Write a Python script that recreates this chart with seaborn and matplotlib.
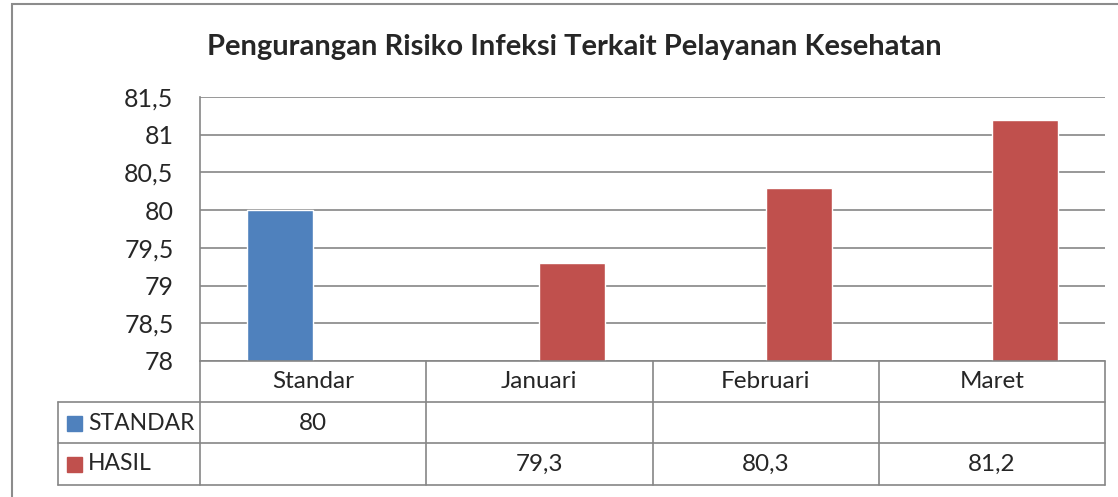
import numpy as np
import pandas as pd
import seaborn as sns
import matplotlib
matplotlib.use("Agg")
import matplotlib.pyplot as plt
from matplotlib.transforms import blended_transform_factory
from matplotlib.patches import Rectangle

# data
categories = ["Standar", "Januari", "Februari", "Maret"]
series = ["STANDAR", "HASIL"]
standar_vals = [80, np.nan, np.nan, np.nan]
hasil_vals = [np.nan, 79.3, 80.3, 81.2]
yticks = [78, 78.5, 79, 79.5, 80, 80.5, 81, 81.5]
title = "Pengurangan Risiko Infeksi Terkait Pelayanan Kesehatan"

colors = ["#4F81BD", "#C0504D"]
grid_c = "#868686"

df = pd.DataFrame({
    "cat": categories * 2,
    "series": [series[0]] * 4 + [series[1]] * 4,
    "val": standar_vals + hasil_vals,
})

sns.set_style("white")
plt.rcParams["font.family"] = ["Lato", "DejaVu Sans"]

W, H = 1118, 497
fig = plt.figure(figsize=(W / 100, H / 100), dpi=100)

def fx(px):
    return px / W

def fy(py):
    return 1 - py / H

ax = fig.add_axes([fx(200), fy(361), fx(1105) - fx(200), fy(97) - fy(361)])
sns.barplot(data=df, x="cat", y="val", hue="series", order=categories,
            hue_order=series, palette=colors, width=0.584, errorbar=None,
            saturation=1, ax=ax, legend=False)

ax.set_ylim(78, 81.5)
ax.set_xlim(-0.5, 3.5)
ax.set_yticks(yticks)
ax.set_yticklabels([f"{v:g}".replace(".", ",") for v in yticks], fontsize=18)
ax.tick_params(axis="y", length=0, pad=19)
ax.set_xticks([])
ax.set_xlabel("")
ax.set_ylabel("")
ax.grid(axis="y", color=grid_c, lw=1.2)
ax.set_axisbelow(True)
for s in ["top", "right", "bottom"]:
    ax.spines[s].set_visible(False)
ax.spines["left"].set_color(grid_c)
ax.spines["left"].set_linewidth(1.2)

# data table under the plot
tr = blended_transform_factory(ax.transData, fig.transFigure)
tf = fig.transFigure
edges = np.arange(len(categories) + 1) - 0.5
rows_y = [361, 402, 443, 485]
lw = 1.2
ax.plot([edges[0], edges[-1]], [fy(361)] * 2, transform=tr, color=grid_c, lw=lw, clip_on=False)
for yy in rows_y[1:]:
    fig.add_artist(plt.Line2D([fx(58), fx(1105)], [fy(yy)] * 2, color=grid_c, lw=lw))
fig.add_artist(plt.Line2D([fx(58)] * 2, [fy(402), fy(485)], color=grid_c, lw=lw))
for e in edges:
    ax.plot([e, e], [fy(361), fy(485)], transform=tr, color=grid_c, lw=lw, clip_on=False)

for i, c in enumerate(categories):
    ax.text(i, fy(381.5), c, transform=tr, ha="center", va="center", fontsize=17.5)
    for r, vals in enumerate([standar_vals, hasil_vals]):
        v = vals[i]
        if not np.isnan(v):
            ax.text(i, fy(423 + 41 * r), f"{v:g}".replace(".", ","), transform=tr,
                    ha="center", va="center", fontsize=17.5)

for r, (name, col) in enumerate(zip(series, colors)):
    yc = 423 + 41 * r
    fig.add_artist(Rectangle((fx(67), fy(yc + 7.5)), fx(15), fy(0) - fy(15),
                             transform=tf, color=col))
    fig.text(fx(88), fy(yc), name, ha="left", va="center", fontsize=16.5)

fig.text(fx(574), fy(47), title, ha="center", va="center", fontsize=21, fontweight="bold")

# chart frame
fig.add_artist(Rectangle((fx(12), fy(600)), fx(1200), fy(4) - fy(600), transform=tf,
                         fill=False, edgecolor="#8C8C8C", lw=1.5))

fig.savefig("out.png", dpi=100)
